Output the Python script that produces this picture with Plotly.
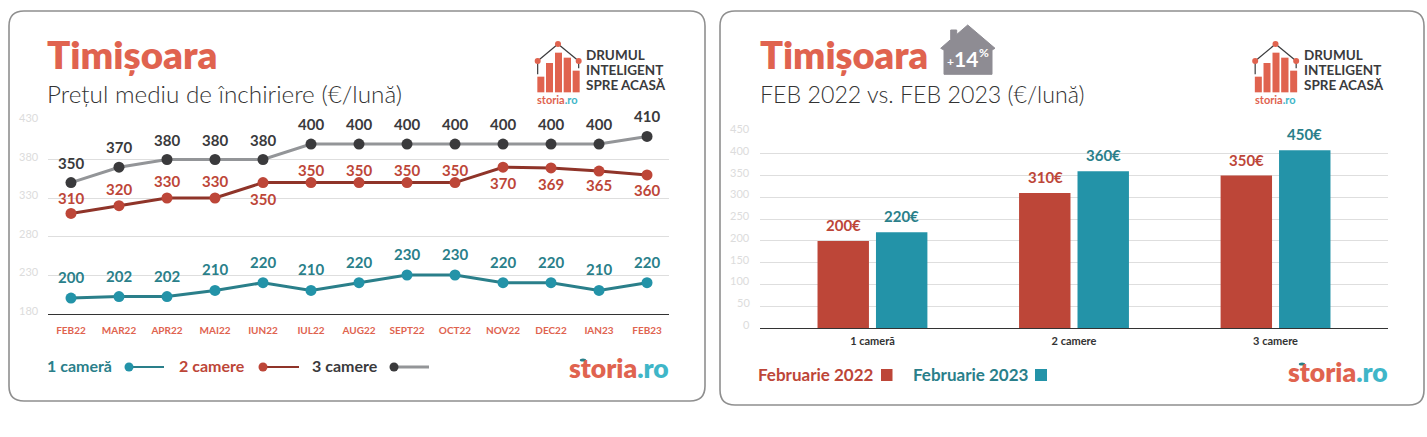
import plotly.graph_objects as go

W, H = 1427, 437

months = ["FEB22","MAR22","APR22","MAI22","IUN22","IUL22","AUG22","SEPT22","OCT22","NOV22","DEC22","IAN23","FEB23"]
one_room = [200,202,202,210,220,210,220,230,230,220,220,210,220]
two_rooms = [310,320,330,330,350,350,350,350,350,370,369,365,360]
three_rooms = [350,370,380,380,380,400,400,400,400,400,400,400,410]
two_shift = [15,17,17,17,-16,13,13,13,13,-16,-16,-14,-15]

room_types = ["1 cameră","2 camere","3 camere"]
feb22 = [200,310,350]
feb23 = [220,360,408]
feb22_labels = ["200€","310€","350€"]
feb23_labels = ["220€","360€","450€"]

line_ticks = [180,230,280,330,380,430]
bar_ticks = [0,50,100,150,200,250,300,350,400,450]

FONT = "Lato"
ORANGE = "#E0634F"
RED = "#BD4638"
DRED = "#8F3429"
TEAL = "#2393A8"
DTEAL = "#2A7F8A"
DARK = "#3A3A3C"
GREY = "#939598"
CYAN = "#3FB6C8"
GRID = "#DEDEDE"
TICK = "#DCDCDC"

def X(p): return p / W
def Y(p): return 1 - p / H

fig = go.Figure()

def line(name, vals, lc, mc, lw):
    fig.add_trace(go.Scatter(x=months, y=vals, name=name, mode="lines+markers",
                             line=dict(color=lc, width=lw), marker=dict(color=mc, size=11),
                             xaxis="x", yaxis="y", showlegend=False, cliponaxis=False))

line("3 camere", three_rooms, GREY, DARK, 3)
line("2 camere", two_rooms, DRED, RED, 3)
line("1 cameră", one_room, DTEAL, TEAL, 3)

fig.add_trace(go.Bar(x=room_types, y=feb22, name="Februarie 2022", marker=dict(color=RED, line_width=0),
                     xaxis="x2", yaxis="y2", showlegend=False))
fig.add_trace(go.Bar(x=room_types, y=feb23, name="Februarie 2023", marker=dict(color=TEAL, line_width=0),
                     xaxis="x2", yaxis="y2", showlegend=False))

ann = []
def txt(px, py, s, size, color, anchor="left", weight=None, family=FONT):
    f = dict(family=family, size=size, color=color)
    if weight: f["weight"] = weight
    ann.append(dict(x=X(px), y=Y(py), xref="paper", yref="paper", text=s, showarrow=False,
                    xanchor=anchor, yanchor="middle", font=f, borderpad=0, borderwidth=0))

# y-axis tick labels sit a little above their gridlines in the reference
for t in line_ticks:
    ann.append(dict(x=X(41), y=t, xref="paper", yref="y", text=str(t), showarrow=False, xanchor="right",
                    yshift=3.5, font=dict(family=FONT, size=11, color=TICK)))
for t in bar_ticks:
    ann.append(dict(x=X(752), y=t, xref="paper", yref="y2", text=str(t), showarrow=False, xanchor="right",
                    yshift=3.5, font=dict(family=FONT, size=11, color=TICK)))

for vals, shifts, col in [(three_rooms, [20]*13, DARK), (two_rooms, two_shift, RED), (one_room, [21]*13, DTEAL)]:
    for m, v, s in zip(months, vals, shifts):
        ann.append(dict(x=m, y=v, xref="x", yref="y", text=str(v), showarrow=False, yshift=s,
                        font=dict(family=FONT, size=15, color=col, weight=700)))

for i, (a, b) in enumerate(zip(feb22, feb23)):
    ann.append(dict(x=room_types[i], y=a, xref="x2", yref="y2", text=feb22_labels[i], showarrow=False,
                    xshift=-29, yshift=16, font=dict(family=FONT, size=15, color=RED, weight=700)))
    ann.append(dict(x=room_types[i], y=b, xref="x2", yref="y2", text=feb23_labels[i], showarrow=False,
                    xshift=29, yshift=16, font=dict(family=FONT, size=15, color=DTEAL, weight=700)))

shapes = []
def rect(x0, y0, x1, y1, c):
    shapes.append(dict(type="rect", xref="paper", yref="paper", x0=X(x0), x1=X(x1), y0=Y(y0), y1=Y(y1),
                       fillcolor=c, line_width=0))
def seg(x0, y0, x1, y1, c, w):
    shapes.append(dict(type="line", xref="paper", yref="paper", x0=X(x0), x1=X(x1), y0=Y(y0), y1=Y(y1),
                       line=dict(color=c, width=w)))
def dot(cx, cy, r, c, ry=None):
    ry = r if ry is None else ry
    shapes.append(dict(type="circle", xref="paper", yref="paper", x0=X(cx-r), x1=X(cx+r), y0=Y(cy-ry), y1=Y(cy+ry),
                       fillcolor=c, line_width=0))
def card(x0, y0, x1, y1, r=15):
    pts = [(x0+r,y0),(x1-r,y0),(x1,y0+r),(x1,y1-r),(x1-r,y1),(x0+r,y1),(x0,y1-r),(x0,y0+r)]
    p = [(X(a), Y(b)) for a, b in pts]
    corners = [(X(x1),Y(y0)),(X(x1),Y(y1)),(X(x0),Y(y1)),(X(x0),Y(y0))]
    d = (f"M{p[0][0]},{p[0][1]} L{p[1][0]},{p[1][1]} Q{corners[0][0]},{corners[0][1]} {p[2][0]},{p[2][1]} "
         f"L{p[3][0]},{p[3][1]} Q{corners[1][0]},{corners[1][1]} {p[4][0]},{p[4][1]} "
         f"L{p[5][0]},{p[5][1]} Q{corners[2][0]},{corners[2][1]} {p[6][0]},{p[6][1]} "
         f"L{p[7][0]},{p[7][1]} Q{corners[3][0]},{corners[3][1]} {p[0][0]},{p[0][1]} Z")
    shapes.append(dict(type="path", xref="paper", yref="paper", path=d, line=dict(color="#8F8F8F", width=1.6), layer="below"))

def logo(dx):
    o = lambda zx: dx + 525 + zx / 3
    v = lambda zy: 35 + zy / 3
    for a, b, t in [(37,58,125),(63,84,84),(90,111,53),(116,138,68),(143,164,107)]:
        rect(o(a), v(t), o(b), v(172), ORANGE)
    seg(o(38), v(78), o(99), v(27), DARK, 1.2)
    seg(o(99), v(27), o(161), v(78), DARK, 1.2)
    seg(o(38), v(78), o(38), v(118), DARK, 1.2)
    seg(o(161), v(78), o(161), v(100), DARK, 1.2)
    for a, b in [(38,78),(99,27),(161,78)]:
        dot(o(a), v(b), 3, ORANGE)
    for s, zy in [("DRUMUL",60),("INTELIGENT",105),("SPRE ACASĂ",150)]:
        txt(o(183), v(zy), s, 13.5, DARK, weight=700)
    txt(o(37), v(192), f"<span style='color:{ORANGE}'>storia</span><span style='color:{CYAN}'>.ro</span>", 11, ORANGE, weight=700)

card(9, 11, 705, 401)
card(720, 11, 1424, 405)

txt(47, 54, "Timișoara", 38.5, ORANGE, weight=800)
txt(47, 94, "Prețul mediu de închiriere (€/lună)", 24.3, "#333333", weight=300)
txt(760, 54, "Timișoara", 38, ORANGE, weight=800)
txt(760, 94, "FEB 2022 vs. FEB 2023 (€/lună)", 23.2, "#333333", weight=300)

logo(0)
logo(717.5)

# house badge
hp = [(967.7,25),(995,48.3),(992,50),(992,74.3),(944,74.3),(944,50),(940.7,48.3),(950.7,39.5),(950.7,30),(956.7,30),(956.7,34.5)]
shapes.append(dict(type="path", xref="paper", yref="paper", fillcolor="#8E8C93", line=dict(color="#8E8C93", width=1),
                   path="M" + " L".join(f"{X(a)},{Y(b)}" for a, b in hp) + " Z"))
txt(951, 62, "+", 12, "white", "center", 700)
txt(966, 58, "14", 21, "white", "center", 700)
txt(984, 52, "%", 12, "white", "center", 700)

# left legend
txt(47, 365.5, "1 cameră", 16, DTEAL, weight=700)
seg(129, 367, 164, 367, DTEAL, 2); dot(129, 367, 4.5, TEAL)
txt(179, 365.5, "2 camere", 16, RED, weight=700)
seg(263, 367, 299, 367, DRED, 2); dot(263, 367, 4.5, RED)
txt(312, 365.5, "3 camere", 16, DARK, weight=700)
seg(394, 367, 429, 367, GREY, 3); dot(394, 367, 4.5, DARK)

# right legend
txt(758, 374.5, "Februarie 2022", 17, RED, weight=700)
rect(881, 369, 892.5, 381, RED)
txt(913, 374.5, "Februarie 2023", 17, DTEAL, weight=700)
rect(1035, 369, 1047, 381, TEAL)

# storia brand marks
def brand(x1, y):
    txt(x1, y, f"<span style='color:{ORANGE}'>storia</span><span style='color:{CYAN}'>.ro</span>", 26.5, ORANGE, "right", 800)
    dot(x1 - 86, y - 8, 3.2, DTEAL, 1.6)
brand(669, 368)
brand(1388, 372)

fig.update_layout(
    width=W, height=H, margin=dict(l=0, r=0, t=0, b=0), autosize=False,
    paper_bgcolor="white", plot_bgcolor="rgba(0,0,0,0)",
    font=dict(family=FONT), barmode="group", bargap=0.42, bargroupgap=0.12,
    annotations=ann, shapes=shapes, showlegend=False,
    xaxis=dict(domain=[X(48), X(669)], anchor="y", type="category", range=[-0.479, 12.458], automargin=False,
               showgrid=False, showline=True, linecolor="#333333", linewidth=1.2, ticks="",
               tickfont=dict(family=FONT, size=10, color=ORANGE, weight=700), ticklabelstandoff=7),
    yaxis=dict(domain=[Y(313.5), Y(121)], anchor="x", range=[180, 430], tickvals=line_ticks, automargin=False,
               showgrid=True, gridcolor=GRID, gridwidth=1, zeroline=False, showline=False, showticklabels=False),
    xaxis2=dict(domain=[X(760), X(1388)], anchor="y2", type="category", range=[-0.558, 2.558], automargin=False,
                showgrid=False, showline=True, linecolor="#333333", linewidth=1.2, ticks="",
                tickfont=dict(family=FONT, size=11, color="#333333", weight=700), ticklabelstandoff=3),
    yaxis2=dict(domain=[Y(328), Y(132)], anchor="x2", range=[0, 450], tickvals=bar_ticks, automargin=False,
                showgrid=True, gridcolor=GRID, gridwidth=1, zeroline=False, showline=False, showticklabels=False),
)

fig.write_html("out.html", config=dict(displayModeBar=False),
               post_script="document.body.style.margin='0';document.body.style.overflow='hidden';")
